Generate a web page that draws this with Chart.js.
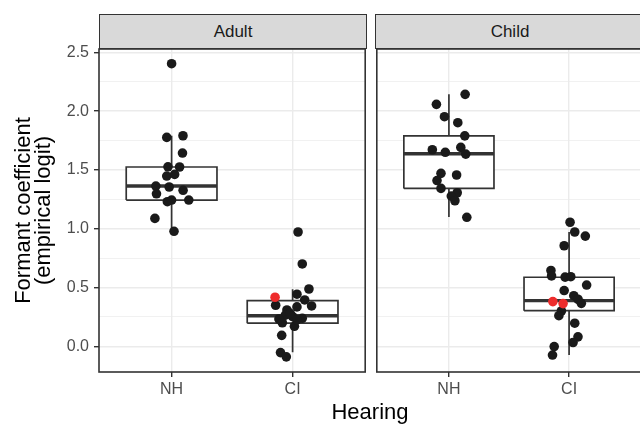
<!DOCTYPE html>
<html>
<head>
<meta charset="utf-8">
<script src="https://cdn.jsdelivr.net/npm/chart.js@4.4.1/dist/chart.umd.min.js"></script>
<style>
  html, body { margin: 0; padding: 0; background: #fff; overflow: hidden; }
  #wrap { position: relative; width: 640px; height: 424px; overflow: hidden; background: #fff;
          font-family: "Liberation Sans", Arial, sans-serif; }
  canvas { position: absolute; top: 44px; }
  #adultChart { left: 0; }
  #childChart { left: 372px; }
  .strip { position: absolute; top: 14px; height: 35px; box-sizing: border-box;
           background: #d9d9d9; border: 1.5px solid #333; color: #1a1a1a; font-size: 17px;
           display: flex; align-items: center; justify-content: center; }
  #xTitle { position: absolute; left: 270px; width: 200px; top: 401px; text-align: center;
            font-size: 22px; line-height: 22px; color: #000; }
</style>
</head>
<body>
<div id="wrap">
  <div class="strip" id="stripAdult" style="left:99px;width:268px"></div>
  <div class="strip" id="stripChild" style="left:375px;width:270px"></div>
  <canvas id="adultChart" width="370" height="380"></canvas>
  <canvas id="childChart" width="274" height="380"></canvas>
  <div id="xTitle">Hearing</div>
</div>
<script>
// Facets and categories
const panelLabels = ['Adult', 'Child'];
const hearingLabels = ['NH', 'CI'];
const hearingPositions = [1, 2];

// y grid: majors get labels, minors only a light line
const yMajorTicks = [0, 0.5, 1, 1.5, 2, 2.5];
const yMinorTicks = [0.25, 0.75, 1.25, 1.75, 2.25];

// box stats: [lower whisker, q1, median, q3, upper whisker]
const adultNHBox = [0.975, 1.244, 1.363, 1.525, 1.79];
const adultCIBox = [-0.05, 0.196, 0.26, 0.388, 0.485];
const childNHBox = [1.10, 1.343, 1.638, 1.79, 2.143];
const childCIBox = [-0.075, 0.303, 0.388, 0.587, 0.972];

// jittered points (value, horizontal jitter in category units)
const adultNHValues = [2.404, 1.777, 1.791, 1.644, 1.527, 1.525, 1.448, 1.462, 1.363, 1.355, 1.297, 1.327, 1.23, 1.244, 1.244, 1.088, 0.978];
const adultNHJitter = [0.0, -0.04, 0.094, 0.09, -0.03, 0.066, -0.04, 0.025, -0.13, -0.02, -0.125, 0.095, -0.035, 0.0, 0.142, -0.138, 0.02];

const adultCIValues = [0.972, 0.70, 0.487, 0.443, 0.394, 0.343, 0.335, 0.309, 0.349, 0.264, 0.252, 0.238, 0.232, 0.20, 0.17, 0.093, -0.054, -0.09, 0.225, 0.28];
const adultCIJitter = [0.045, 0.08, 0.135, 0.036, 0.1, 0.157, 0.036, -0.047, -0.14, -0.06, 0.0, 0.08, -0.113, -0.085, 0.015, -0.09, -0.1, -0.052, 0.035, -0.02];
const adultCIRedValues = [0.417];
const adultCIRedJitter = [-0.145];

const childNHValues = [2.143, 2.058, 1.953, 1.902, 1.79, 1.672, 1.65, 1.692, 1.635, 1.471, 1.457, 1.41, 1.343, 1.306, 1.278, 1.238, 1.097];
const childNHJitter = [0.135, -0.104, -0.037, 0.074, 0.132, -0.138, -0.03, 0.099, 0.14, -0.066, 0.064, -0.099, -0.066, 0.069, 0.02, 0.05, 0.149];

const childCIValues = [1.055, 0.972, 0.937, 0.855, 0.645, 0.598, 0.588, 0.592, 0.521, 0.474, 0.43, 0.40, 0.365, 0.30, 0.26, 0.196, 0.08, 0.032, -0.003, -0.075];
const childCIJitter = [0.008, 0.047, 0.135, -0.041, -0.151, -0.146, -0.033, 0.014, 0.146, -0.041, 0.039, 0.074, 0.102, -0.064, -0.085, 0.047, 0.074, 0.033, -0.124, -0.138];
const childCIRedValues = [0.38, 0.363];
const childCIRedJitter = [-0.135, -0.05];

const Y_MIN = -0.219;
const Y_MAX = 2.529;
const BOX_HALF = 0.375;
const BOX_COLOR = '#333333';
const POINT_COLOR = '#1a1a1a';
const RED_COLOR = '#ee2c2c';
const GRID_COLOR = '#ebebeb';

Chart.defaults.font.family = '"Liberation Sans", Arial, sans-serif';

document.getElementById('stripAdult').textContent = panelLabels[0];
document.getElementById('stripChild').textContent = panelLabels[1];

function isMajor(v) {
  return yMajorTicks.some(t => Math.abs(t - v) < 1e-9);
}

function lineSet(points, width, order) {
  return {
    data: points,
    borderColor: BOX_COLOR,
    borderWidth: width,
    pointRadius: 0,
    fill: false,
    tension: 0,
    order: order
  };
}

function boxDatasets(pos, box) {
  const [lo, q1, med, q3, hi] = box;
  const l = pos - BOX_HALF, r = pos + BOX_HALF;
  return [
    // whisker, sits under the white box
    lineSet([{ x: pos, y: lo }, { x: pos, y: hi }], 1.7, 5),
    // white box fill
    {
      data: [{ x: l, y: q3 }, { x: r, y: q3 }],
      borderColor: 'rgba(0,0,0,0)',
      borderWidth: 1,
      pointRadius: 0,
      backgroundColor: '#ffffff',
      fill: { value: q1 },
      order: 4
    },
    // box outline
    lineSet([{ x: l, y: q1 }, { x: r, y: q1 }, { x: r, y: q3 }, { x: l, y: q3 }, { x: l, y: q1 }], 1.7, 3),
    // median
    lineSet([{ x: l, y: med }, { x: r, y: med }], 3.4, 2)
  ];
}

function pointSet(pos, values, jitter, color, order) {
  return {
    data: values.map((v, i) => ({ x: pos + jitter[i], y: v })),
    showLine: false,
    pointRadius: 4.8,
    pointBackgroundColor: color,
    pointBorderColor: color,
    pointBorderWidth: 0,
    order: order
  };
}

const panelBorder = {
  id: 'panelBorder',
  afterDraw(chart) {
    const { ctx, chartArea: a } = chart;
    ctx.save();
    ctx.strokeStyle = BOX_COLOR;
    ctx.lineWidth = 1.6;
    ctx.strokeRect(a.left, a.top, a.right - a.left, a.bottom - a.top);
    ctx.restore();
  }
};

function makePanel(canvasId, datasets, showY) {
  const ctx = document.getElementById(canvasId).getContext('2d');
  return new Chart(ctx, {
    type: 'line',
    data: { datasets: datasets },
    plugins: [panelBorder],
    options: {
      responsive: false,
      animation: false,
      devicePixelRatio: 1,
      layout: { padding: { top: 5, right: 4, bottom: 0, left: showY ? 0 : 4 } },
      plugins: { legend: { display: false }, tooltip: { enabled: false } },
      scales: {
        x: {
          type: 'linear',
          min: 0.4,
          max: 2.6,
          afterBuildTicks: s => { s.ticks = hearingPositions.map(v => ({ value: v })); },
          afterFit: s => { s.height = 52; s.paddingLeft = 0; s.paddingRight = 0; },
          border: { display: false },
          grid: { color: GRID_COLOR, lineWidth: 1.4, tickColor: BOX_COLOR, tickLength: 5 },
          ticks: {
            autoSkip: false,
            maxRotation: 0,
            padding: 3,
            color: '#4d4d4d',
            font: { size: 16 },
            callback: v => hearingLabels[hearingPositions.indexOf(v)]
          }
        },
        y: {
          type: 'linear',
          min: Y_MIN,
          max: Y_MAX,
          afterBuildTicks: s => {
            s.ticks = yMajorTicks.concat(yMinorTicks).sort((a, b) => a - b).map(v => ({ value: v }));
          },
          afterFit: s => { s.width = showY ? 99 : 0; s.paddingTop = 0; s.paddingBottom = 0; },
          border: { display: false },
          grid: {
            color: GRID_COLOR,
            lineWidth: c => (c.tick && isMajor(c.tick.value)) ? 1.4 : 0.7,
            tickColor: c => (c.tick && isMajor(c.tick.value)) ? BOX_COLOR : 'rgba(0,0,0,0)',
            tickLength: 5,
            drawTicks: showY
          },
          ticks: {
            display: showY,
            autoSkip: false,
            padding: 5,
            color: '#4d4d4d',
            font: { size: 16 },
            callback: v => isMajor(v) ? v.toFixed(1) : ''
          },
          title: {
            display: showY,
            text: ['Formant coefficient', '(empirical logit)'],
            color: '#000',
            font: { size: 22, lineHeight: 0.95 },
            padding: { top: 13, bottom: 0 }
          }
        }
      }
    }
  });
}

const adultDatasets = [].concat(
  boxDatasets(hearingPositions[0], adultNHBox),
  boxDatasets(hearingPositions[1], adultCIBox),
  [pointSet(hearingPositions[0], adultNHValues, adultNHJitter, POINT_COLOR, 1),
   pointSet(hearingPositions[1], adultCIValues, adultCIJitter, POINT_COLOR, 1),
   pointSet(hearingPositions[1], adultCIRedValues, adultCIRedJitter, RED_COLOR, 0)]
);

const childDatasets = [].concat(
  boxDatasets(hearingPositions[0], childNHBox),
  boxDatasets(hearingPositions[1], childCIBox),
  [pointSet(hearingPositions[0], childNHValues, childNHJitter, POINT_COLOR, 1),
   pointSet(hearingPositions[1], childCIValues, childCIJitter, POINT_COLOR, 1),
   pointSet(hearingPositions[1], childCIRedValues, childCIRedJitter, RED_COLOR, 0)]
);

makePanel('adultChart', adultDatasets, true);
makePanel('childChart', childDatasets, false);
</script>
</body>
</html>
